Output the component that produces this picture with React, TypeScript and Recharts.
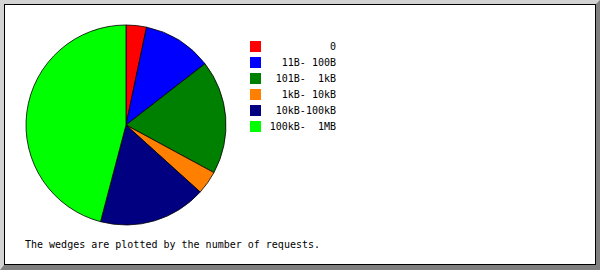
import { PieChart, Pie, Cell, Legend } from 'recharts'

// request size buckets and their share of requests (%)
const buckets = ['0', '11B- 100B', '101B-  1kB', '1kB- 10kB', '10kB-100kB', '100kB-  1MB']
const shares = [3.3, 11.2, 18.4, 3.8, 17.4, 45.9]
const colors = ['#ff0000', '#0000ff', '#008000', '#ff8000', '#000080', '#00ff00']

const caption = 'The wedges are plotted by the number of requests.'

const data = buckets.map((name, i) => ({ name, value: shares[i] }))

const mono = '"DejaVu Sans Mono", monospace'

function KeyBox({ payload }: any) {
  // keep the legend in bucket order, not the legend's sorted order
  const items = [...(payload ?? [])].sort(
    (a: any, b: any) => buckets.indexOf(a.value) - buckets.indexOf(b.value),
  )
  return (
    <svg width={600} height={270} style={{ display: 'block' }}>
      {items.map((p: any, i: number) => (
        <g key={p.value}>
          <rect x={250} y={41 + i * 16} width={11} height={11} fill={p.color} />
          <text
            x={336}
            y={50 + i * 16}
            textAnchor="end"
            fontSize={10}
            fontFamily={mono}
            fill="#000"
            style={{ whiteSpace: 'pre' }}
          >
            {p.value}
          </text>
        </g>
      ))}
      <text x={25} y={248} fontSize={10} fontFamily={mono} fill="#000">
        {caption}
      </text>
    </svg>
  )
}

export default function App() {
  return (
    <div style={{ position: 'absolute', left: 0, top: 0, width: 600, height: 270, background: '#fff' }}>
      {/* bevelled frame */}
      <div
        style={{
          position: 'absolute',
          inset: 0,
          boxSizing: 'border-box',
          borderTop: '4px solid #d3d3d3',
          borderLeft: '4px solid #d3d3d3',
          borderRight: '4px solid #808080',
          borderBottom: '5px solid #808080',
        }}
      >
        <div style={{ width: '100%', height: '100%', boxSizing: 'border-box', border: '1px solid #000' }} />
      </div>
      <div style={{ position: 'absolute', left: 0, top: 0 }}>
        <PieChart width={600} height={270} margin={{ top: 0, right: 0, bottom: 0, left: 0 }}>
          <Pie
            data={data}
            dataKey="value"
            nameKey="name"
            cx={126}
            cy={125}
            outerRadius={100}
            startAngle={90}
            endAngle={-270}
            stroke="#000"
            strokeWidth={0.8}
            isAnimationActive={false}
          >
            {data.map((d, i) => (
              <Cell key={d.name} fill={colors[i]} />
            ))}
          </Pie>
          <Legend
            layout="vertical"
            align="center"
            verticalAlign="middle"
            content={KeyBox}
            wrapperStyle={{ position: 'absolute', left: 0, top: 0, width: 600, height: 270 }}
          />
        </PieChart>
      </div>
    </div>
  )
}
